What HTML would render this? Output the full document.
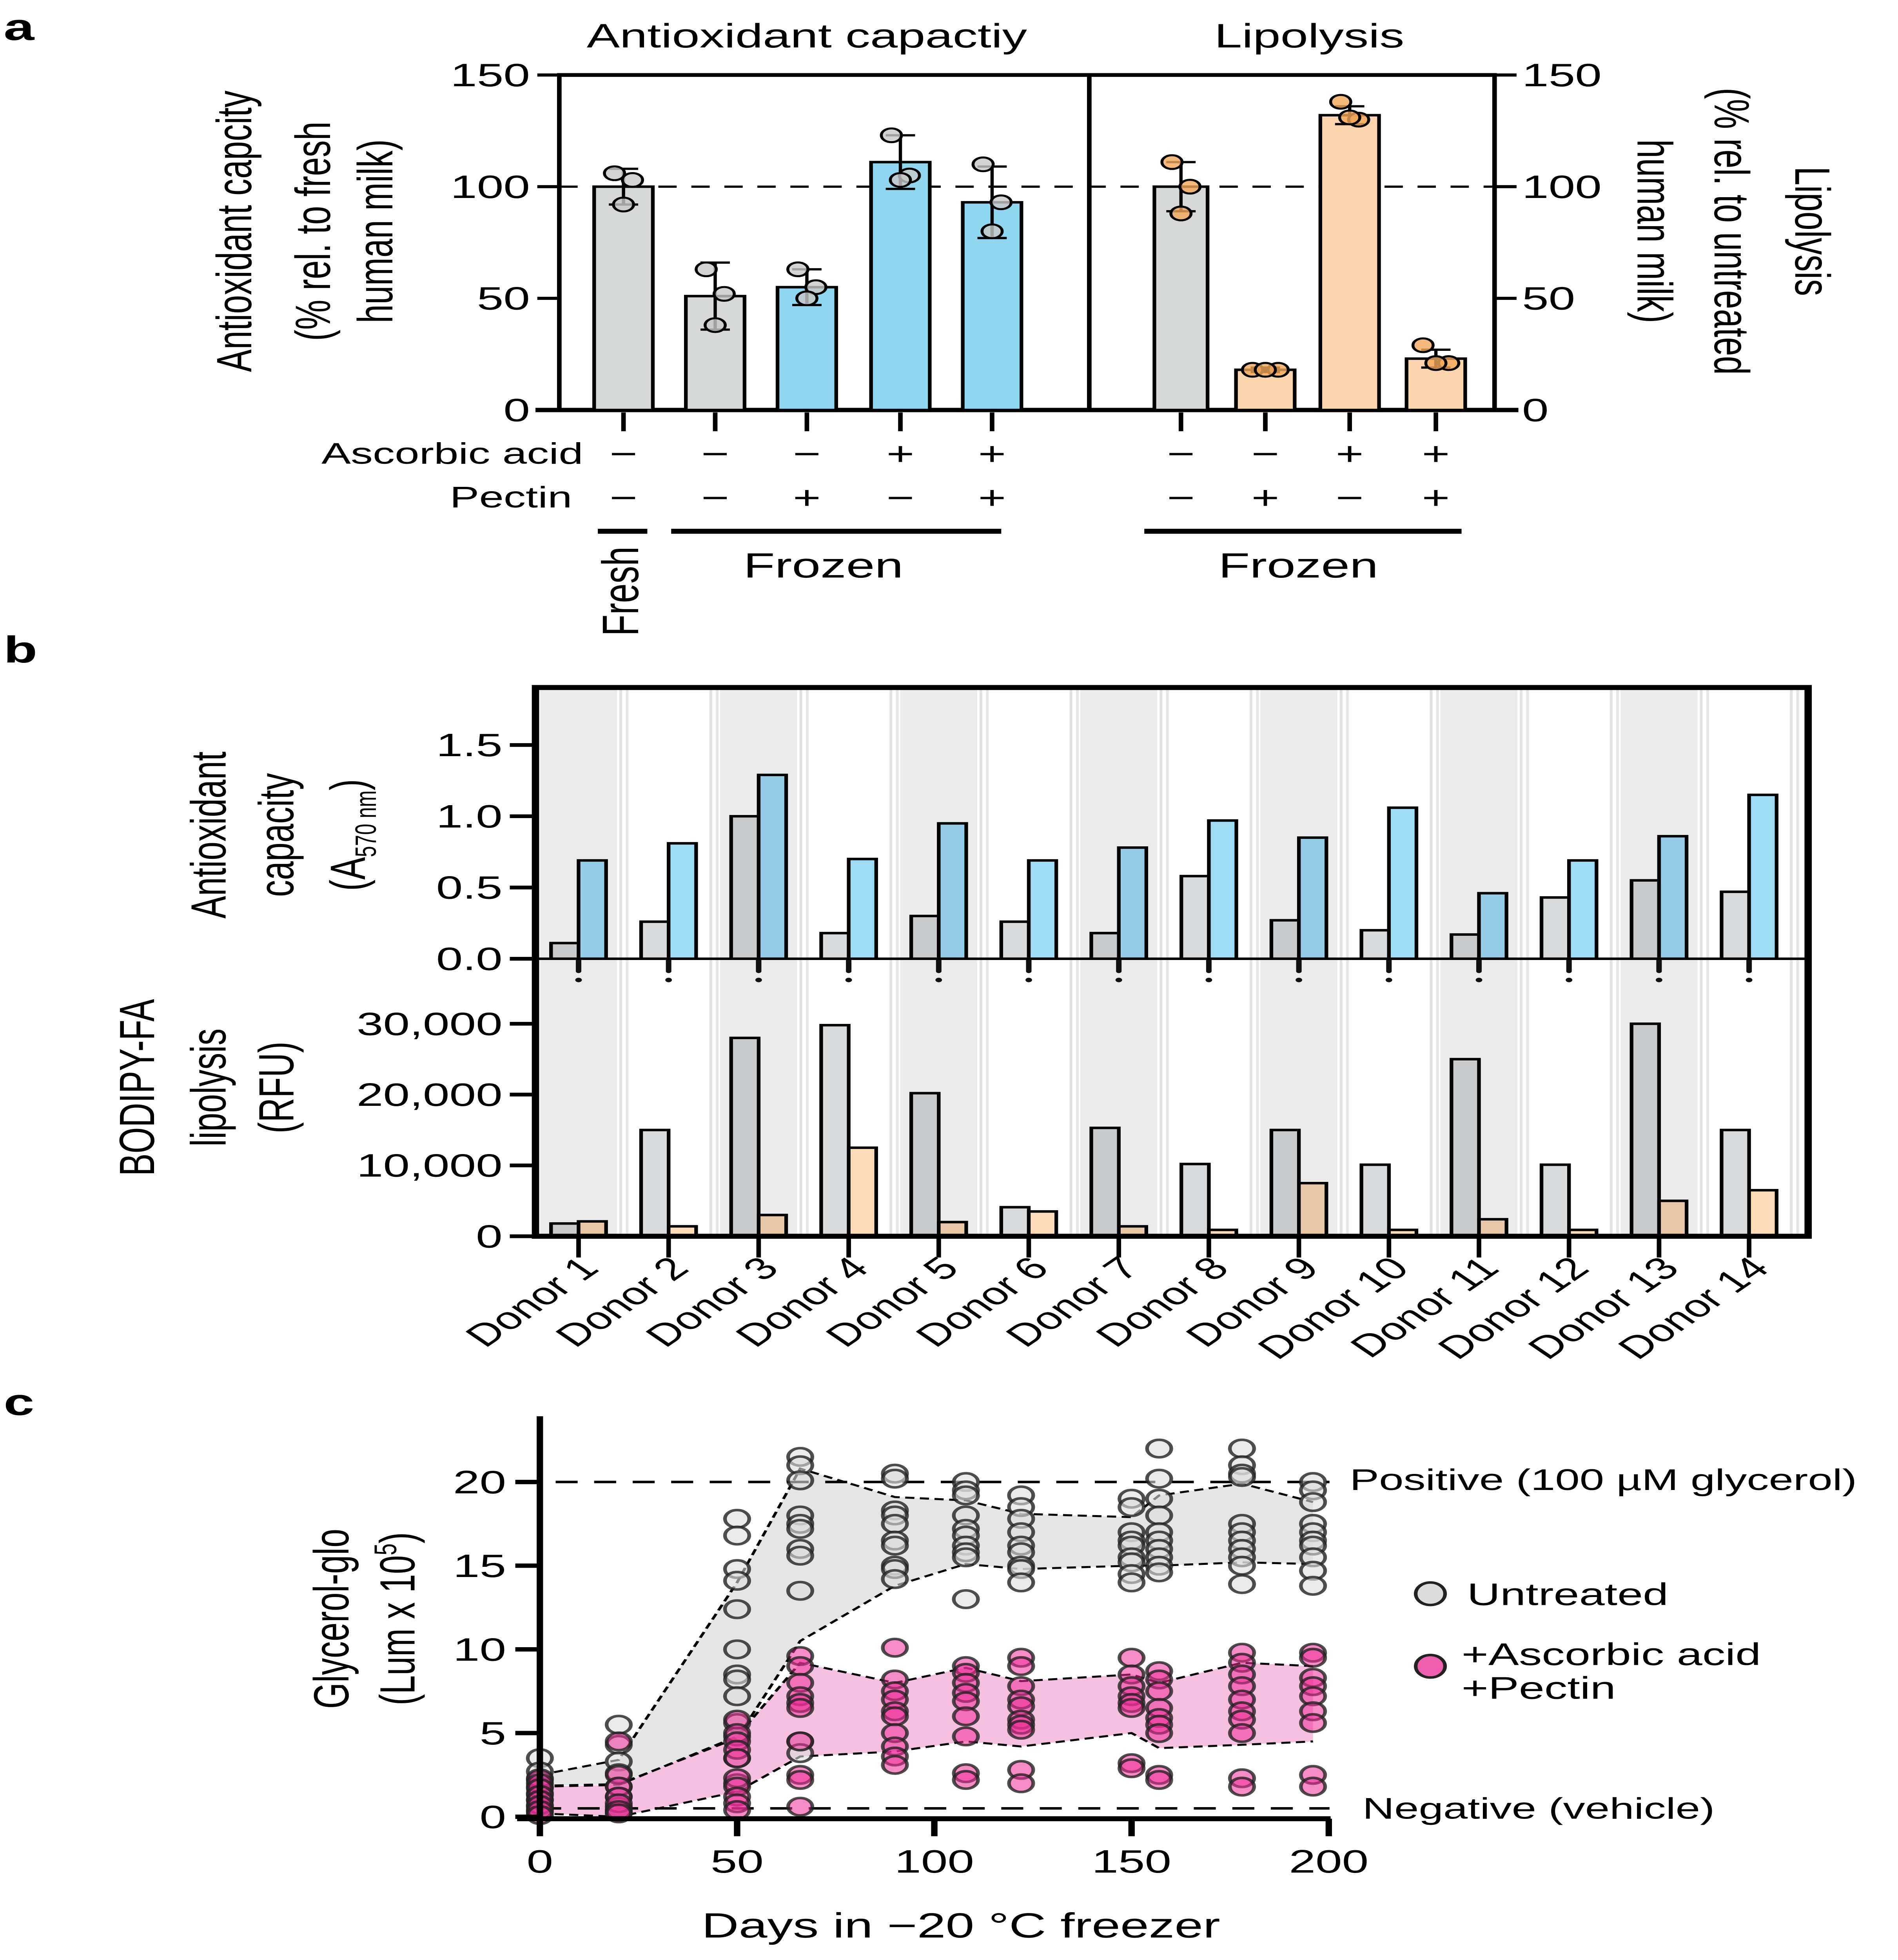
<!DOCTYPE html>
<html><head><meta charset="utf-8"><style>html,body{margin:0;padding:0;background:#fff;overflow:hidden;width:100vw;height:100vh}svg{display:block;position:absolute;left:0;top:0;width:100vw;height:100vh}text{font-family:"Liberation Sans",Arial,sans-serif;fill:#000}</style></head>
<body>
<svg id="fig" xmlns="http://www.w3.org/2000/svg" viewBox="0 0 1035 1568" preserveAspectRatio="none">
<g id="pa"></g>
<g id="pb"></g>
<g id="pc"></g>
</svg>
<script>
// ---------- Panel a data ----------
const aLeftCats = ["Fresh","Frozen","Frozen+P","Frozen+AA","Frozen+AA+P"];
const aLeftVals = [100,51,55,111,93];
const aLeftSD = [8,15,8,12,16];
const aLeftPts = [[106,103,92],[63,52,38],[63,55,50],[123,105,103],[110,93,80]];
const aRightCats = ["Fresh","Frozen+P","Frozen+AA","Frozen+AA+P"];
const aRightVals = [100,18,132,23];
const aRightSD = [11,1,4,4];
const aRightPts = [[111,100,88],[18,18,18],[138,130,131],[29,21,21]];
const aTicks = [0,50,100,150];
const aAA = ["−","−","−","+","+","−","−","+","+"];
const aPec = ["−","−","+","−","+","−","+","−","+"];
// ---------- Panel b data ----------
const donors = ["Donor 1","Donor 2","Donor 3","Donor 4","Donor 5","Donor 6","Donor 7","Donor 8","Donor 9","Donor 10","Donor 11","Donor 12","Donor 13","Donor 14"];
const bAntiGray = [0.11,0.26,1.0,0.18,0.30,0.26,0.18,0.58,0.27,0.20,0.17,0.43,0.55,0.47];
const bAntiBlue = [0.69,0.81,1.29,0.70,0.95,0.69,0.78,0.97,0.85,1.06,0.46,0.69,0.86,1.15];
const bLipoGray = [1800,15000,28000,29800,20200,4100,15300,10200,15000,10100,25000,10100,30000,15000];
const bLipoOrange = [2100,1400,3000,12500,2000,3500,1400,900,7500,900,2400,900,5000,6500];
const bAntiTicks = ["0.0","0.5","1.0","1.5"];
const bLipoTicks = ["0","10,000","20,000","30,000"];
// ---------- Panel c data ----------
const cDays = [0,20,50,66,90,108,122,150,157,178,196];
const cGray = [
 [3.5,2.7,2.2,1.8,1.4,1.0,0.6,0.3],
 [5.5,4.3,3.3,2.6,1.8,1.2,0.6,0.3],
 [17.8,16.8,14.8,14.1,12.4,10.0,8.5,8.2,7.2,5.6,4.8,3.5,2.0],
 [21.5,21.0,20.1,18.0,17.5,17.2,16.0,15.6,13.5,4.5,3.8],
 [20.5,20.2,18.3,18.0,17.5,16.5,16.2,15.0,14.8,14.2],
 [20.0,19.5,19.2,18.0,17.2,16.8,16.2,15.8,15.5,13.0],
 [19.2,18.5,17.8,17.0,16.2,15.8,15.0,14.8,14.0],
 [19.0,18.5,17.0,16.5,16.2,15.5,15.2,14.5,14.0],
 [22.0,20.2,19.0,18.0,17.0,16.5,16.0,15.5,15.0,14.6],
 [22.0,21.0,20.5,20.3,17.5,17.0,16.5,16.0,15.5,15.0,13.9],
 [20.0,19.5,18.8,17.5,17.0,16.5,16.2,15.5,14.7,13.8]];
const cPink = [
 [2.3,2.0,1.7,1.3,1.0,0.7,0.4,0.1],
 [4.5,2.5,1.8,1.2,0.8,0.4,0.2],
 [5.8,5.0,4.5,4.0,3.5,2.3,1.8,1.2,0.8,0.4],
 [9.6,9.0,8.0,7.2,6.8,6.5,4.5,2.5,2.2,0.6],
 [10.1,8.2,7.5,7.0,6.3,6.0,5.0,4.2,3.6,3.1],
 [9.0,8.6,8.0,7.4,6.9,6.0,4.8,2.6,2.2],
 [9.5,9.0,7.8,7.0,6.6,5.8,5.5,5.2,2.8,2.0],
 [9.5,8.5,7.8,7.2,6.8,6.5,3.2,2.9],
 [8.7,8.2,7.5,6.5,5.9,5.5,5.0,2.5,2.2],
 [9.8,9.2,8.5,7.8,7.0,6.3,5.8,5.0,2.3,1.8],
 [9.8,9.5,8.3,7.8,7.2,6.3,5.6,2.5,1.8]];
const cGrayUp = [2.5,3.4,14.0,20.8,19.1,18.9,18.1,17.9,19.2,19.9,18.8];
const cGrayLo = [1.85,1.95,4.7,10.5,13.8,15.1,14.8,15.0,15.0,15.2,15.1];
const cPinkUp = [1.8,1.9,4.8,9.2,8.0,8.9,8.1,8.5,8.0,9.2,9.0];
const cPinkLo = [0.2,0.0,1.5,3.6,3.9,4.5,4.2,5.0,4.1,4.3,4.5];
const cYTicks = [0,5,10,15,20];
const cXTicks = [0,50,100,150,200];

const NS="http://www.w3.org/2000/svg";
function mk(parent,tag,attrs,txt){const e=document.createElementNS(NS,tag);for(const k in attrs)e.setAttribute(k,attrs[k]);if(txt!==undefined)e.textContent=txt;parent.appendChild(e);return e;}

// ===== Panel a =====
(function(){
const g=document.getElementById('pa');
const yA=v=>328-v*(268/150);
const lt=mk(g,'text',{x:2,y:32,'font-size':30,'font-weight':'bold'},'a');


const t1=mk(g,'text',{x:440,y:38,'font-size':27,'text-anchor':'middle'},'Antioxidant capactiy');


const t2=mk(g,'text',{x:714,y:38,'font-size':27,'text-anchor':'middle'},'Lipolysis');


mk(g,'line',{x1:305,y1:60,x2:815,y2:60,stroke:'#000','stroke-width':3});
mk(g,'line',{x1:305,y1:58.5,x2:305,y2:328,stroke:'#000','stroke-width':2.5});
mk(g,'line',{x1:815,y1:58.5,x2:815,y2:328,stroke:'#000','stroke-width':2.5});
mk(g,'line',{x1:594,y1:60,x2:594,y2:328,stroke:'#000','stroke-width':2.5});
mk(g,'line',{x1:292,y1:328,x2:828,y2:328,stroke:'#000','stroke-width':3.5});
aTicks.forEach(v=>{
 mk(g,'line',{x1:293,y1:yA(v),x2:305,y2:yA(v),stroke:'#000','stroke-width':2.5});
 mk(g,'line',{x1:815,y1:yA(v),x2:827,y2:yA(v),stroke:'#000','stroke-width':2.5});
 const a=mk(g,'text',{x:289,y:yA(v)+9,'font-size':26,'text-anchor':'end'},String(v));
 
 
 const b=mk(g,'text',{x:830,y:yA(v)+9,'font-size':26},String(v));
 
 
});
mk(g,'line',{x1:305,y1:yA(100),x2:815,y2:yA(100),stroke:'#000','stroke-width':1.8,'stroke-dasharray':'10,8'});
const lx=[340,390,440,491,541], rx=[644,690,736,783];
function drawBars(xs,vals,sds,pts,fills,ptFill,names){
 xs.forEach((x,i)=>{
  const w=i===0&&xs===rx?29:32;
  const r=mk(g,'rect',{x:x-w/2,y:yA(vals[i]),width:w,height:328-yA(vals[i]),fill:fills[i],stroke:'#000','stroke-width':2});
  
  
  mk(g,'line',{x1:x,y1:yA(vals[i]-sds[i]),x2:x,y2:yA(vals[i]+sds[i]),stroke:'#000','stroke-width':1.8});
  mk(g,'line',{x1:x-8,y1:yA(vals[i]+sds[i]),x2:x+8,y2:yA(vals[i]+sds[i]),stroke:'#000','stroke-width':1.8});
  mk(g,'line',{x1:x-8,y1:yA(vals[i]-sds[i]),x2:x+8,y2:yA(vals[i]-sds[i]),stroke:'#000','stroke-width':1.8});
  const off=[-7,7,0];
  pts[i].forEach((p,j)=>{const c=mk(g,'circle',{cx:x+off[j]*(vals[i]<30?1:0.7),cy:yA(p),r:5.5,fill:ptFill,'fill-opacity':0.8,stroke:'#000','stroke-width':1.6});
   
   });
  mk(g,'line',{x1:x,y1:330,x2:x,y2:345,stroke:'#000','stroke-width':2.5});
 });
}
drawBars(lx,aLeftVals,aLeftSD,aLeftPts,['#d7d8d8','#d7d8d8','#8fd6f1','#8fd6f1','#8fd6f1'],'#c8c8c8',aLeftCats);
drawBars(rx,aRightVals,aRightSD,aRightPts,['#d7d8d8','#fcd5ae','#fcd5ae','#fcd5ae'],'#f1a75a',aRightCats);
[['Antioxidant capcity',137],['(% rel. to fresh',180],['human milk)',214]].forEach(([s,x])=>{const t=mk(g,'text',{'font-size':27,'text-anchor':'middle',transform:`translate(${x},185) rotate(-90)`},s);
 
 });
[['Lipolysis',988],['(% rel. to untreated',944],['human milk)',902]].forEach(([s,x])=>{const t=mk(g,'text',{'font-size':27,'text-anchor':'middle',transform:`translate(${x-9},185) rotate(90)`},s);
 
 });
const allx=lx.concat(rx);
mk(g,'text',{x:318,y:371,'font-size':24,'text-anchor':'end'},'Ascorbic acid');
mk(g,'text',{x:312,y:406,'font-size':24,'text-anchor':'end'},'Pectin');
allx.forEach((x,i)=>{mk(g,'text',{x:x,y:372,'font-size':26,'text-anchor':'middle'},aAA[i]);mk(g,'text',{x:x,y:407,'font-size':26,'text-anchor':'middle'},aPec[i]);});
mk(g,'line',{x1:326,y1:425,x2:353,y2:425,stroke:'#000','stroke-width':4});
mk(g,'line',{x1:366,y1:425,x2:546,y2:425,stroke:'#000','stroke-width':4});
mk(g,'line',{x1:624,y1:425,x2:797,y2:425,stroke:'#000','stroke-width':4});
mk(g,'text',{x:449,y:462,'font-size':28,'text-anchor':'middle'},'Frozen');
mk(g,'text',{x:708,y:462,'font-size':28,'text-anchor':'middle'},'Frozen');
mk(g,'text',{'font-size':28,'text-anchor':'middle',transform:'translate(348,473) rotate(-90)'},'Fresh');
})();

// ===== Panel b =====
(function(){
const g=document.getElementById('pb');
const L=292,R=986,T=550,M=767,B=989;
const yU=v=>M-v*(171/1.5), yL=v=>B-v*(170/30000);
const cx=i=>315.5+i*49.1;
const lt=mk(g,'text',{x:2,y:530,'font-size':30,'font-weight':'bold'},'b');


donors.forEach((d,i)=>{
 if(i%2===0) mk(g,'rect',{x:cx(i)-21,y:T,width:42,height:B-T,fill:'#ebebeb'});
 mk(g,'line',{x1:cx(i)+23,y1:T,x2:cx(i)+23,y2:B,stroke:'#e2e2e2','stroke-width':1.5});
 mk(g,'line',{x1:cx(i)+26.5,y1:T,x2:cx(i)+26.5,y2:B,stroke:'#e6e6e6','stroke-width':1.5});
});
donors.forEach((d,i)=>{
 const c=cx(i);
 let r=mk(g,'rect',{x:c-15,y:yU(bAntiGray[i]),width:15,height:M-yU(bAntiGray[i]),fill:i%2?'#d9dadb':'#c9cacc',stroke:'#000','stroke-width':2});
 
 
 r=mk(g,'rect',{x:c,y:yU(bAntiBlue[i]),width:15,height:M-yU(bAntiBlue[i]),fill:i%2?'#9ddcf4':'#94cbe6',stroke:'#000','stroke-width':2});
 
 
 r=mk(g,'rect',{x:c-15,y:yL(bLipoGray[i]),width:15,height:B-yL(bLipoGray[i]),fill:i%2?'#d9dadb':'#c9cacc',stroke:'#000','stroke-width':2});
 
 
 r=mk(g,'rect',{x:c,y:yL(bLipoOrange[i]),width:15,height:B-yL(bLipoOrange[i]),fill:i%2?'#fddbb8':'#e9c7a6',stroke:'#000','stroke-width':2});
 
 
 mk(g,'line',{x1:c,y1:M,x2:c,y2:777,stroke:'#111','stroke-width':3,'stroke-linecap':'round'});
 mk(g,'circle',{cx:c,cy:784,r:1.8,fill:'#111'});
 mk(g,'line',{x1:c,y1:B,x2:c,y2:1006,stroke:'#000','stroke-width':2.5});
 const t=mk(g,'text',{'font-size':25,'text-anchor':'end',transform:`translate(${c+12},1016) rotate(-45)`},d);
 
 
});
mk(g,'rect',{x:L,y:T,width:R-L,height:B-T,fill:'none',stroke:'#000','stroke-width':4});
mk(g,'line',{x1:L,y1:M,x2:R,y2:M,stroke:'#000','stroke-width':2});
bAntiTicks.forEach((s,i)=>{const y=yU(i*0.5);mk(g,'line',{x1:278,y1:y,x2:L,y2:y,stroke:'#000','stroke-width':3});
 const t=mk(g,'text',{x:274,y:y+9,'font-size':26,'text-anchor':'end'},s);
 
 });
bLipoTicks.forEach((s,i)=>{const y=yL(i*10000);mk(g,'line',{x1:278,y1:y,x2:L,y2:y,stroke:'#000','stroke-width':3});
 const t=mk(g,'text',{x:274,y:y+9,'font-size':26,'text-anchor':'end'},s);
 
 });
[['Antioxidant',123],['capacity',160]].forEach(([s,x])=>mk(g,'text',{'font-size':27,'text-anchor':'middle',transform:`translate(${x},668) rotate(-90)`},s));
const a=mk(g,'text',{'font-size':27,'text-anchor':'middle',transform:'translate(199,668) rotate(-90)'});


a.innerHTML='(A<tspan font-size="16" dy="6">570 nm</tspan><tspan dy="-6">)</tspan>';
[['BODIPY-FA',84],['lipolysis',123],['(RFU)',160]].forEach(([s,x])=>{const t=mk(g,'text',{'font-size':27,'text-anchor':'middle',transform:`translate(${x},870) rotate(-90)`},s);
 
 });
})();

// ===== Panel c =====
(function(){
const g=document.getElementById('pc');
const xC=d=>294.4+d*2.151, yC=v=>1453.4-v*13.39;
const lt=mk(g,'text',{x:2,y:1132,'font-size':30,'font-weight':'bold'},'c');


const poly=(up,lo)=>cDays.map((d,i)=>xC(d)+','+yC(up[i])).concat(cDays.slice().reverse().map((d,k)=>{const i=cDays.length-1-k;return xC(d)+','+yC(lo[i]);})).join(' ');
const line=(arr)=>cDays.map((d,i)=>xC(d)+','+yC(arr[i])).join(' ');
let p=mk(g,'polygon',{points:poly(cGrayUp,cGrayLo),fill:'#e5e5e5'});


p=mk(g,'polygon',{points:poly(cPinkUp,cPinkLo),fill:'#f2a6d3','fill-opacity':0.7});


[cGrayUp,cGrayLo,cPinkUp,cPinkLo].forEach(a=>mk(g,'polyline',{points:line(a),fill:'none',stroke:'#000','stroke-width':1.6,'stroke-dasharray':'5,3'}));
mk(g,'line',{x1:282,y1:yC(20),x2:725,y2:yC(20),stroke:'#000','stroke-width':2,'stroke-dasharray':'12,9'});
mk(g,'line',{x1:294,y1:yC(0.5),x2:725,y2:yC(0.5),stroke:'#000','stroke-width':2,'stroke-dasharray':'12,9'});
cDays.forEach((d,i)=>{
 cGray[i].forEach(v=>{const c=mk(g,'ellipse',{cx:xC(d),cy:yC(v),rx:6.6,ry:7,fill:'#dcdcdc','fill-opacity':0.6,stroke:'#222','stroke-opacity':0.8,'stroke-width':2});
  
  });
});
cDays.forEach((d,i)=>{
 cPink[i].forEach(v=>{const c=mk(g,'ellipse',{cx:xC(d),cy:yC(v),rx:6.6,ry:7,fill:'#ef2d98','fill-opacity':0.55,stroke:'#222','stroke-opacity':0.8,'stroke-width':2});
  
  });
});
mk(g,'line',{x1:294.4,y1:1133,x2:294.4,y2:1456,stroke:'#000','stroke-width':3.5});
mk(g,'line',{x1:282,y1:1455,x2:xC(200)+1,y2:1455,stroke:'#000','stroke-width':4});
cYTicks.forEach(v=>{mk(g,'line',{x1:281,y1:yC(v),x2:294,y2:yC(v),stroke:'#000','stroke-width':3.5});
 const t=mk(g,'text',{x:276,y:yC(v)+9,'font-size':26,'text-anchor':'end'},String(v));
 
 });
cXTicks.forEach(v=>{mk(g,'line',{x1:xC(v),y1:1455,x2:xC(v),y2:1469,stroke:'#000','stroke-width':3.5});
 const t=mk(g,'text',{x:xC(v),y:1498,'font-size':26,'text-anchor':'middle'},String(v));
 
 });
let t=mk(g,'text',{x:524,y:1550,'font-size':28,'text-anchor':'middle'},'Days in −20 °C freezer');


mk(g,'text',{'font-size':27,'text-anchor':'middle',transform:'translate(190,1295) rotate(-90)'},'Glycerol-glo');
t=mk(g,'text',{'font-size':27,'text-anchor':'middle',transform:'translate(226,1295) rotate(-90)'});


t.innerHTML='(Lum x 10<tspan font-size="17" dy="-10">5</tspan><tspan dy="10">)</tspan>';
mk(g,'text',{x:736,y:1192,'font-size':24},'Positive (100 µM glycerol)');
mk(g,'text',{x:743,y:1455,'font-size':24},'Negative (vehicle)');
let e=mk(g,'ellipse',{cx:780,cy:1275,rx:8,ry:9,fill:'#dcdcdc',stroke:'#222','stroke-width':2});


mk(g,'text',{x:800,y:1284,'font-size':25},'Untreated');
e=mk(g,'ellipse',{cx:780,cy:1333,rx:8,ry:9,fill:'#ef5fae',stroke:'#222','stroke-width':2});


mk(g,'text',{x:797,y:1332,'font-size':25},'+Ascorbic acid');
mk(g,'text',{x:797,y:1359,'font-size':25},'+Pectin');
})();
</script>
</body></html>
